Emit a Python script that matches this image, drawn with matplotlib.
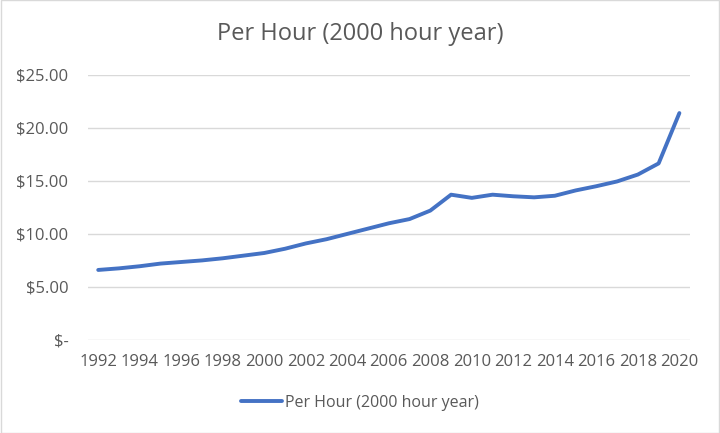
import matplotlib
matplotlib.use("Agg")
import matplotlib.pyplot as plt
from matplotlib.patches import Rectangle

years = list(range(1992, 2021))
per_hour = [6.6, 6.75, 6.95, 7.2, 7.35, 7.5, 7.7, 7.95, 8.2, 8.6, 9.1, 9.5, 10.0, 10.5,
            11.0, 11.4, 12.2, 13.7, 13.4, 13.7, 13.55, 13.45, 13.6, 14.1, 14.5, 14.95,
            15.6, 16.65, 21.4]
y_ticks = [0, 5, 10, 15, 20, 25]
y_labels = ["$-", "$5.00", "$10.00", "$15.00", "$20.00", "$25.00"]
x_ticks = list(range(1992, 2021, 2))

plt.rcParams['font.family'] = ['Open Sans', 'DejaVu Sans']
txt = '#595959'

fig = plt.figure(figsize=(7.2, 4.33), dpi=100)
ax = fig.add_axes([0.122, 0.215, 0.836, 0.612])
ax.plot(years, per_hour, color='#4472C4', lw=2.8, solid_capstyle='round',
        label='Per Hour (2000 hour year)')
ax.set_xlim(1991.5, 2020.5)
ax.set_ylim(0, 25)
ax.set_yticks(y_ticks)
ax.set_yticklabels(y_labels)
ax.set_xticks(x_ticks)
ax.set_xticklabels([str(x) for x in x_ticks])
ax.grid(axis='y', color='#D9D9D9', lw=1)
ax.set_axisbelow(True)
for s in ax.spines.values():
    s.set_visible(False)
ax.tick_params(length=0, colors=txt, labelsize=12)
ax.tick_params(axis='y', pad=14)
ax.tick_params(axis='x', pad=10)
fig.suptitle('Per Hour (2000 hour year)', color=txt, fontsize=17, x=0.5, y=0.95)
leg = fig.legend(loc='center', bbox_to_anchor=(0.5, 0.07), frameon=False,
                 fontsize=11.5, handlelength=2.6, handletextpad=0.2, labelcolor=txt)
fig.patches.append(Rectangle((0.001, 0.001), 0.998, 0.998, transform=fig.transFigure,
                             fill=False, edgecolor='#D9D9D9', lw=1))
fig.savefig('out.png', dpi=100)
